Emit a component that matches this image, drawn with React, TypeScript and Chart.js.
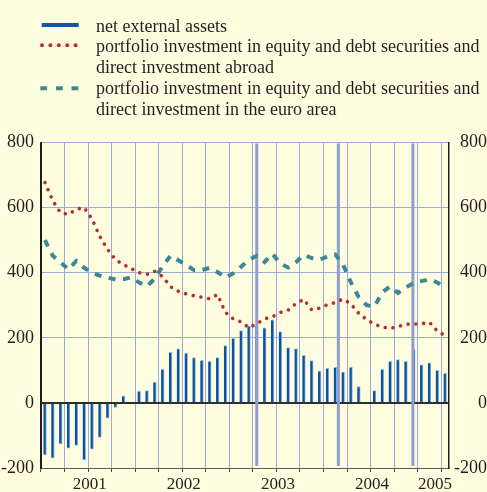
import React, { useEffect, useRef } from "react";
import { Chart, registerables } from "chart.js";

Chart.register(...registerables);

// Monthly categories, Jan 2001 – Apr 2005
const months = [
  "2001-01", "2001-02", "2001-03", "2001-04", "2001-05", "2001-06", "2001-07", "2001-08", "2001-09", "2001-10", "2001-11", "2001-12",
  "2002-01", "2002-02", "2002-03", "2002-04", "2002-05", "2002-06", "2002-07", "2002-08", "2002-09", "2002-10", "2002-11", "2002-12",
  "2003-01", "2003-02", "2003-03", "2003-04", "2003-05", "2003-06", "2003-07", "2003-08", "2003-09", "2003-10", "2003-11", "2003-12",
  "2004-01", "2004-02", "2004-03", "2004-04", "2004-05", "2004-06", "2004-07", "2004-08", "2004-09", "2004-10", "2004-11", "2004-12",
  "2005-01", "2005-02", "2005-03", "2005-04",
];

// net external assets (bars)
const netExternalAssets = [
  -160, -170, -126, -139, -131, -175, -142, -106, -47, -14, 22, 0,
  36, 38, 64, 103, 155, 166, 153, 139, 131, 128, 139, 176,
  198, 222, 236, 236, 231, 255, 219, 170, 167, 146, 130, 98,
  106, 109, 95, 110, 50, 0, 38, 103, 128, 133, 128, 164,
  117, 123, 100, 91,
];

// portfolio investment ... direct investment abroad (dotted red)
const investmentAbroad = [
  677, 621, 584, 579, 595, 600, 565, 511, 471, 440, 425, 413,
  400, 395, 404, 388, 357, 343, 335, 329, 325, 320, 333, 278,
  258, 249, 231, 243, 258, 265, 278, 285, 305, 318, 286, 291,
  302, 308, 319, 304, 275, 256, 242, 233, 229, 234, 242, 242,
  243, 248, 221, 207,
];

// portfolio investment ... direct investment in the euro area (dashed teal)
const investmentEuroArea = [
  500, 452, 432, 410, 436, 415, 400, 391, 385, 379, 380, 386,
  370, 358, 382, 420, 452, 438, 424, 408, 408, 415, 402, 385,
  398, 418, 440, 452, 433, 458, 428, 416, 432, 455, 445, 440,
  450, 456, 425, 370, 325, 300, 296, 340, 358, 338, 355, 368,
  374, 380, 370, 356,
];

// tick values for both y axes
const yTicks = [-200, 0, 200, 400, 600, 800];

// month positions of the heavy vertical rules seen in the original
const heavyRuleMonths = [27, 37.4, 46.9];

const legendLabels = [
  ["net external assets"],
  ["portfolio investment in equity and debt securities and", "direct investment abroad"],
  ["portfolio investment in equity and debt securities and", "direct investment in the euro area"],
];

const BG = "#fffde0";
const GRID = "#9eaadc";
const HEAVY = "#8e9dd2";
const BAR = "#0a52a4";
const BAR_EDGE = "#94b4e2";
const RED = "#b3302f";
const TEAL = "#3c8797";
const TEXT = "#231f20";
const SERIF = '"Liberation Serif", "Times New Roman", serif';

// year label index: middle month of each year's months
const yearLabelAt: Record<number, string> = {};
{
  const byYear: Record<string, number[]> = {};
  months.forEach((m, i) => {
    const y = m.slice(0, 4);
    (byYear[y] = byYear[y] || []).push(i);
  });
  Object.keys(byYear).forEach((y) => {
    const idx = byYear[y];
    yearLabelAt[Math.floor((idx[0] + idx[idx.length - 1]) / 2)] = y;
  });
}

const heavyRules = {
  id: "heavyRules",
  afterDatasetDraw(chart: any, args: any) {
    if (args.meta.type !== "bar") return;
    const { ctx, chartArea, scales } = chart;
    ctx.save();
    ctx.strokeStyle = HEAVY;
    ctx.lineWidth = 3;
    for (const m of heavyRuleMonths) {
      const x = scales.x.getPixelForValue(m);
      ctx.beginPath();
      ctx.moveTo(x, chartArea.top + 1);
      ctx.lineTo(x, chartArea.bottom - 2);
      ctx.stroke();
    }
    ctx.restore();
  },
};

export default function App() {
  const ref = useRef<HTMLCanvasElement>(null);

  useEffect(() => {
    const canvas = ref.current;
    if (!canvas) return;
    const chart = new Chart(canvas, {
      data: {
        labels: months,
        datasets: [
          {
            type: "line",
            label: "abroad",
            data: investmentAbroad,
            borderColor: RED,
            borderWidth: 3.6,
            borderDash: [0.01, 7.8],
            borderCapStyle: "round",
            pointRadius: 0,
            tension: 0,
            fill: false,
            order: 1,
            yAxisID: "y",
          },
          {
            type: "line",
            label: "euro area",
            data: investmentEuroArea,
            borderColor: TEAL,
            borderWidth: 4,
            borderDash: [7, 7.5],
            borderCapStyle: "butt",
            pointRadius: 0,
            tension: 0,
            fill: false,
            order: 2,
            yAxisID: "y",
          },
          {
            type: "bar",
            label: "net external assets",
            data: netExternalAssets,
            backgroundColor: BAR,
            borderColor: BAR_EDGE,
            borderWidth: (c: any) =>
              c.raw >= 0
                ? { top: 1, right: 1, left: 0, bottom: 0 }
                : { top: 0, right: 1, left: 0, bottom: 1 },
            borderSkipped: "start",
            barThickness: 3,
            order: 3,
            yAxisID: "y",
          },
        ],
      } as any,
      options: {
        responsive: false,
        animation: false,
        events: [],
        layout: { padding: { top: 142.5, left: 0, right: 0, bottom: 0 } },
        plugins: { legend: { display: false }, tooltip: { enabled: false } },
        scales: {
          x: {
            type: "category",
            offset: true,
            grid: {
              offset: true,
              color: (c: any) =>
                c.index !== undefined && c.index % 3 === 0 && c.index > 0 ? GRID : "transparent",
              lineWidth: 1,
              drawTicks: true,
              tickLength: 4,
              tickColor: (c: any) =>
                c.index !== undefined && c.index % 3 === 0 ? "#4a4a4a" : "transparent",
            },
            border: { display: true, color: "#5a5a5a", width: 1 },
            ticks: {
              autoSkip: false,
              maxRotation: 0,
              minRotation: 0,
              padding: 2,
              labelOffset: 5.5,
              color: TEXT,
              font: { family: SERIF, size: 17 },
              callback: (_v: any, i: number) => yearLabelAt[i] || "",
            },
            afterFit: (s: any) => {
              s.height = 24;
            },
          },
          y: {
            position: "left",
            min: yTicks[0],
            max: yTicks[yTicks.length - 1],
            afterBuildTicks: (s: any) => {
              s.ticks = yTicks.map((v) => ({ value: v }));
            },
            ticks: { padding: 7, color: TEXT, font: { family: SERIF, size: 18 } },
            grid: {
              drawTicks: false,
              color: (c: any) => (c.tick && c.tick.value === 0 ? "#2e2e2e" : GRID),
              lineWidth: (c: any) => (c.tick && c.tick.value === 0 ? 2 : 1),
            },
            border: { display: true, color: "#1e1e1e", width: 2 },
            afterFit: (s: any) => {
              s.width = 41;
            },
          },
          y1: {
            position: "right",
            min: yTicks[0],
            max: yTicks[yTicks.length - 1],
            afterBuildTicks: (s: any) => {
              s.ticks = yTicks.map((v) => ({ value: v }));
            },
            ticks: {
              padding: 3,
              crossAlign: "far",
              color: TEXT,
              font: { family: SERIF, size: 18 },
            },
            grid: { drawOnChartArea: false, drawTicks: false },
            border: { display: true, color: "#1e1e1e", width: 1.5 },
            afterFit: (s: any) => {
              s.width = 38;
            },
          },
        },
      } as any,
      plugins: [heavyRules],
    });
    return () => chart.destroy();
  }, []);

  const lineH = 20.8;

  return (
    <div
      style={{
        position: "absolute",
        left: 0,
        top: 0,
        width: 487,
        height: 492,
        background: BG,
        overflow: "hidden",
      }}
    >
      <canvas ref={ref} width={487} height={492} style={{ position: "absolute", left: 0, top: 0, display: "block" }} />
      <svg width={100} height={100} style={{ position: "absolute", left: 0, top: 0 }}>
        <rect x={41.7} y={23} width={37} height={4} fill="#1456a6" />
        {[42, 50.4, 58.8, 67.2, 75.6].map((cx) => (
          <circle key={cx} cx={cx} cy={45.3} r={2} fill={RED} />
        ))}
        {[40.3, 56, 71.5].map((x) => (
          <rect key={x} x={x} y={86.3} width={6.8} height={4} fill={TEAL} />
        ))}
      </svg>
      <div
        style={{
          position: "absolute",
          left: 96,
          top: 15.5,
          fontFamily: SERIF,
          fontSize: 18,
          lineHeight: `${lineH}px`,
          color: TEXT,
          whiteSpace: "nowrap",
        }}
      >
        {legendLabels.map((lines, i) => (
          <div key={i}>
            {lines.map((t, j) => (
              <div key={j}>{t}</div>
            ))}
          </div>
        ))}
      </div>
    </div>
  );
}
